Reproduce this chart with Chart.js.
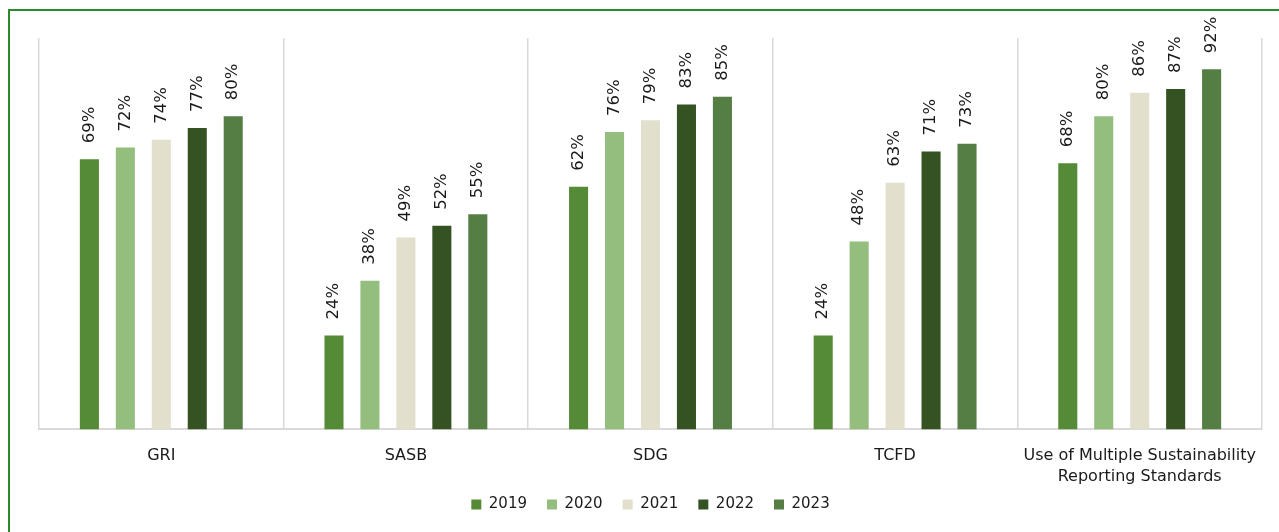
<!DOCTYPE html>
<html>
<head>
<meta charset="utf-8">
<script src="https://cdn.jsdelivr.net/npm/chart.js@4"></script>
<style>
  html, body { margin: 0; padding: 0; background: #ffffff; }
  #wrap { position: relative; width: 1279px; height: 532px; }
  #frame { position: absolute; left: 8px; top: 9px; right: 0; bottom: 0;
           border-top: 2px solid #2b8a2b; border-left: 2px solid #2b8a2b; pointer-events: none; }
  canvas { position: absolute; left: 0; top: 0; }
</style>
</head>
<body>
<div id="wrap">
  <canvas id="c" width="1279" height="532"></canvas>
  <div id="frame"></div>
</div>
<script>
const categories = ["GRI", "SASB", "SDG", "TCFD", ["Use of Multiple Sustainability", "Reporting Standards"]];
const years = ["2019", "2020", "2021", "2022", "2023"];
const values2019 = [69, 24, 62, 24, 68];
const values2020 = [72, 38, 76, 48, 80];
const values2021 = [74, 49, 79, 63, 86];
const values2022 = [77, 52, 83, 71, 87];
const values2023 = [80, 55, 85, 73, 92];
const seriesValues = [values2019, values2020, values2021, values2022, values2023];
const colors = ["#558a37", "#93be7d", "#e2dfcd", "#355322", "#547e43"];

const FONT = "'DejaVu Sans', Tahoma, Verdana, sans-serif";

const labelPlugin = {
  id: 'rotLabels',
  afterDatasetsDraw(chart) {
    const ctx = chart.ctx;
    chart.data.datasets.forEach((ds, i) => {
      const meta = chart.getDatasetMeta(i);
      meta.data.forEach((bar, j) => {
        ctx.save();
        ctx.translate(bar.x, bar.y - 16);
        ctx.rotate(-Math.PI / 2);
        ctx.font = "16.5px " + FONT;
        ctx.fillStyle = "#1a1a1a";
        ctx.textAlign = "left";
        ctx.textBaseline = "middle";
        ctx.fillText(ds.data[j] + "%", 0, 0);
        ctx.restore();
      });
    });
  }
};

// Lift the legend so it sits closer to the axis labels (as in the reference)
const legendShift = {
  id: 'legendShift',
  afterLayout(chart) {
    const lg = chart.legend;
    if (!lg) return;
    const targetTop = 477;
    const h = lg.height;
    lg.top = targetTop;
    lg.bottom = targetTop + h;
  }
};

new Chart(document.getElementById('c'), {
  type: 'bar',
  data: {
    labels: categories,
    datasets: years.map((y, i) => ({
      label: y,
      data: seriesValues[i],
      backgroundColor: colors[i],
      borderWidth: 0,
      categoryPercentage: 0.735,
      barPercentage: 0.53
    }))
  },
  options: {
    responsive: false,
    animation: false,
    devicePixelRatio: 1,
    layout: { padding: { left: 39, right: 17, top: 38, bottom: -16 } },
    scales: {
      x: {
        grid: { display: true, offset: true, color: "#d9d9d9", lineWidth: 1.5, drawTicks: false },
        border: { display: true, color: "#d9d9d9", width: 2 },
        ticks: { color: "#1a1a1a", font: { family: FONT, size: 16, lineHeight: 1.3 }, padding: 16, maxRotation: 0, autoSkip: false }
      },
      y: {
        display: false,
        min: 0, max: 100
      }
    },
    plugins: {
      legend: {
        position: 'bottom',
        labels: {
          boxWidth: 10, boxHeight: 10, padding: 20,
          color: "#1a1a1a",
          font: { family: FONT, size: 15 }
        }
      },
      tooltip: { enabled: false }
    }
  },
  plugins: [labelPlugin, legendShift]
});
</script>
</body>
</html>
